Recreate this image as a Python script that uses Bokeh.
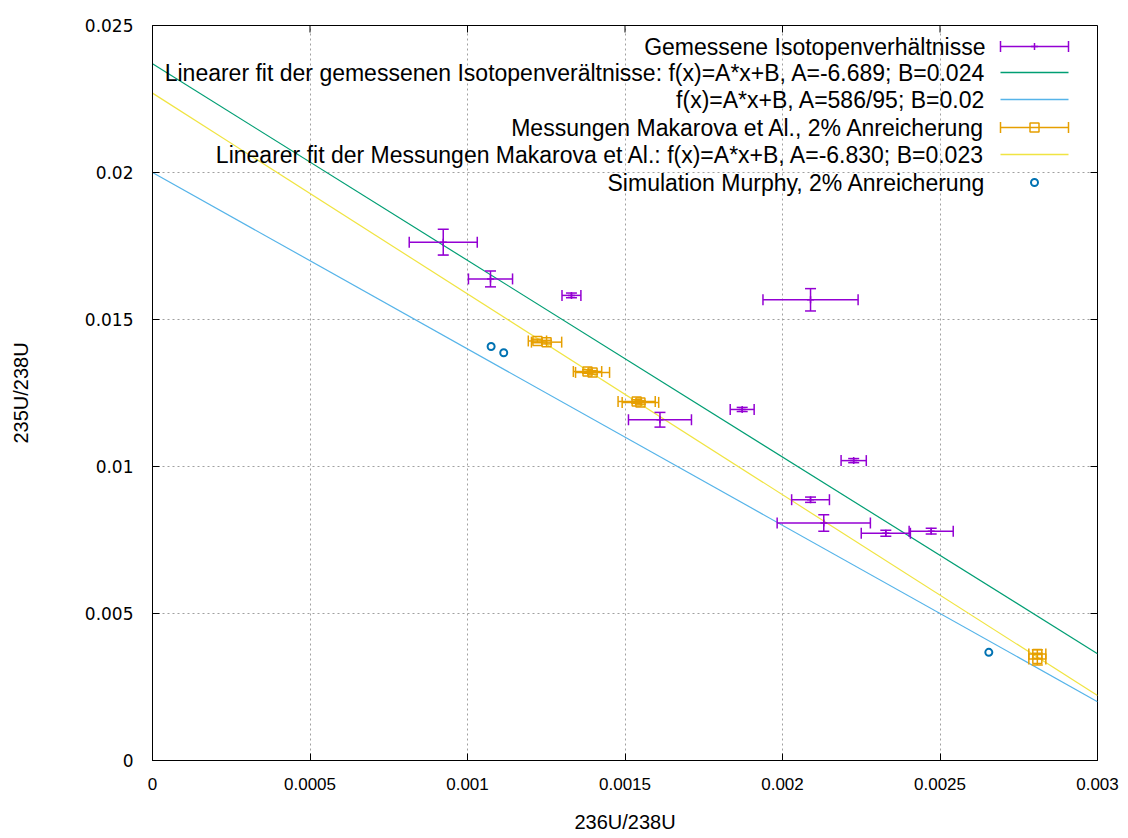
import numpy as np
from bokeh.plotting import figure
from bokeh.models import FixedTicker, Range1d
from bokeh.core.properties import value
from bokeh.embed import file_html
from bokeh.resources import INLINE

# ---------------- data ----------------
x_ticks = [0, 0.0005, 0.001, 0.0015, 0.002, 0.0025, 0.003]
x_tick_labels = ["0", "0.0005", "0.001", "0.0015", "0.002", "0.0025", "0.003"]
y_ticks = [0, 0.005, 0.01, 0.015, 0.02, 0.025]
y_tick_labels = ["0", "0.005", "0.01", "0.015", "0.02", "0.025"]

# Gemessene Isotopenverhaeltnisse (x, y, xerr, yerr)
meas_x = [0.000923, 0.001073, 0.00133, 0.002089, 0.001611, 0.001872, 0.002226, 0.002089, 0.002131, 0.002328, 0.002472]
meas_y = [0.01763, 0.01638, 0.01582, 0.01567, 0.01159, 0.01194, 0.01020, 0.00887, 0.00808, 0.00773, 0.00780]
meas_xerr = [0.000108, 0.00007, 0.00003, 0.000151, 0.0001, 0.000038, 0.00004, 0.00006, 0.000148, 0.000078, 0.00007]
meas_yerr = [0.00044, 0.00027, 0.00008, 0.00038, 0.00025, 0.00007, 0.00007, 0.00009, 0.00028, 0.0001, 0.0001]

# Messungen Makarova et Al.
mak_x = [0.001222, 0.001251, 0.001381, 0.001397, 0.001537, 0.001549, 0.002809, 0.002809]
mak_y = [0.01427, 0.01423, 0.01323, 0.01320, 0.01221, 0.01218, 0.00362, 0.00345]
mak_xerr = [0.000029, 0.000048, 0.000045, 0.000054, 0.000059, 0.000058, 0.000027, 0.000027]
mak_yerr = [0.00006, 0.00006, 0.00006, 0.00006, 0.00006, 0.00006, 0.00015, 0.00020]

# Simulation Murphy
mur_x = [0.001075, 0.001115, 0.002655]
mur_y = [0.01408, 0.01387, 0.00368]

# linear functions f(x) = A*x + B
fit_meas = (-6.689, 0.0237)
fit_ref = (-6.0, 0.0200)
fit_mak = (-6.830, 0.0227)

labels = [
    "Gemessene Isotopenverhältnisse",
    "Linearer fit der gemessenen Isotopenverältnisse: f(x)=A*x+B, A=-6.689; B=0.024",
    "f(x)=A*x+B, A=586/95; B=0.02",
    "Messungen Makarova et Al., 2% Anreicherung",
    "Linearer fit der Messungen Makarova et Al.: f(x)=A*x+B, A=-6.830; B=0.023",
    "Simulation Murphy, 2% Anreicherung",
]

# ---------------- styles ----------------
PURPLE = "#9400d3"
GREEN = "#009e73"
LBLUE = "#56b4e9"
ORANGE = "#e69f00"
YELLOW = "#f0e442"
BLUE = "#0072b2"
SANS = "Liberation Sans"

X0, X1 = 0.0, 0.003
Y0, Y1 = 0.0, 0.025
W, H = 1128, 838
BL, BR, BT, BB = 152, 31, 25, 78
FW, FH = W - BL - BR, H - BT - BB
TICK = 7

def dx(px):
    return X0 + (px - BL) / FW * (X1 - X0)

def dy(py):
    return Y0 + (BT + FH - py) / FH * (Y1 - Y0)

p = figure(width=W, height=H, x_range=Range1d(X0, X1), y_range=Range1d(Y0, Y1),
           output_backend="svg", toolbar_location=None,
           min_border_left=BL, min_border_right=BR, min_border_top=BT, min_border_bottom=BB,
           background_fill_color="white", border_fill_color="white")
p.outline_line_color = "black"
p.outline_line_width = 1

for ax in (p.xaxis[0], p.yaxis[0]):
    ax.axis_line_color = "black"
    ax.major_tick_in = TICK
    ax.major_tick_out = 0
    ax.minor_tick_in = 0
    ax.minor_tick_out = 0
    ax.major_tick_line_color = "black"
    ax.major_label_text_color = "black"
    ax.axis_label_text_font_style = "normal"
    ax.axis_label_text_color = "black"
    ax.axis_label_text_font = SANS
    ax.axis_label_text_font_size = "20px"

p.xaxis.ticker = FixedTicker(ticks=x_ticks)
p.xaxis.major_label_overrides = {v: s for v, s in zip(x_ticks, x_tick_labels)}
p.xaxis.major_label_text_font = SANS
p.xaxis.major_label_text_font_size = "17px"
p.xaxis.major_label_standoff = 17
p.xaxis.axis_label = "236U/238U"
p.xaxis.axis_label_standoff = 18

p.yaxis.ticker = FixedTicker(ticks=y_ticks)
p.yaxis.major_label_overrides = {v: s for v, s in zip(y_ticks, y_tick_labels)}
p.yaxis.major_label_text_font = "DejaVu Sans"
p.yaxis.major_label_text_font_size = "17px"
p.yaxis.major_label_standoff = 19
p.yaxis.axis_label = "235U/238U"
p.yaxis.axis_label_standoff = 50

p.xgrid.ticker = FixedTicker(ticks=x_ticks)
p.ygrid.ticker = FixedTicker(ticks=y_ticks)
for g in (p.xgrid[0], p.ygrid[0]):
    g.grid_line_color = "#a0a0a0"
    g.grid_line_dash = "2 3"
    g.grid_line_width = 1

# mirrored ticks on top and right border (gnuplot style)
xt = np.array(x_ticks)
yt = np.array(y_ticks)
p.segment(xt, np.full_like(xt, Y1), xt, np.full_like(xt, dy(BT + TICK)), line_color="black", line_width=1)
p.segment(np.full_like(yt, X1), yt, np.full_like(yt, dx(BL + FW - TICK)), yt, line_color="black", line_width=1)

# fit lines
lx = np.array([X0, X1])
for (a, b), col in ((fit_meas, GREEN), (fit_ref, LBLUE), (fit_mak, YELLOW)):
    p.line(lx, a * lx + b, line_color=col, line_width=1.2)

def errbars(xs, ys, xe, ye, col):
    xs, ys, xe, ye = map(np.array, (xs, ys, xe, ye))
    p.segment(xs - xe, ys, xs + xe, ys, line_color=col, line_width=1.5)
    p.segment(xs, ys - ye, xs, ys + ye, line_color=col, line_width=1.5)
    p.scatter(np.concatenate([xs - xe, xs + xe]), np.concatenate([ys, ys]), marker="dash",
              angle=np.pi / 2, size=11, line_color=col, line_width=1.5)
    p.scatter(np.concatenate([xs, xs]), np.concatenate([ys - ye, ys + ye]), marker="dash",
              size=11, line_color=col, line_width=1.5)

errbars(meas_x, meas_y, meas_xerr, meas_yerr, PURPLE)
p.scatter(meas_x, meas_y, marker="cross", size=7, line_color=PURPLE, line_width=1.5)

errbars(mak_x, mak_y, mak_xerr, mak_yerr, ORANGE)
p.scatter(mak_x, mak_y, marker="square", size=9, fill_color=None, line_color=ORANGE, line_width=1.5)

p.scatter(mur_x, mur_y, marker="circle", size=7, fill_color=None, line_color=BLUE, line_width=2)

# ---------------- key (gnuplot style: text right, sample on the right) ----------------
row_py = [46, 72, 99, 127, 154, 182]
tx = dx(985)
sx0, sx1, sxm = dx(1000), dx(1068), dx(1034)
ry = [dy(v) for v in row_py]
p.text([tx] * len(labels), ry, text=labels, text_align="right", text_baseline="middle",
       text_font=value(SANS), text_font_size="23px", text_color="black")

for i, col in ((0, PURPLE), (3, ORANGE)):
    p.segment([sx0], [ry[i]], [sx1], [ry[i]], line_color=col, line_width=1.5)
    p.scatter([sx0, sx1], [ry[i], ry[i]], marker="dash", angle=np.pi / 2, size=11,
              line_color=col, line_width=1.5)
p.scatter([sxm], [ry[0]], marker="cross", size=7, line_color=PURPLE, line_width=1.5)
p.scatter([sxm], [ry[3]], marker="square", size=9, fill_color=None, line_color=ORANGE, line_width=1.5)
for i, col in ((1, GREEN), (2, LBLUE), (4, YELLOW)):
    p.segment([sx0], [ry[i]], [sx1], [ry[i]], line_color=col, line_width=1.5)
p.scatter([sxm], [ry[5]], marker="circle", size=7, fill_color=None, line_color=BLUE, line_width=2)

open("out.html", "w").write(file_html(p, INLINE))
